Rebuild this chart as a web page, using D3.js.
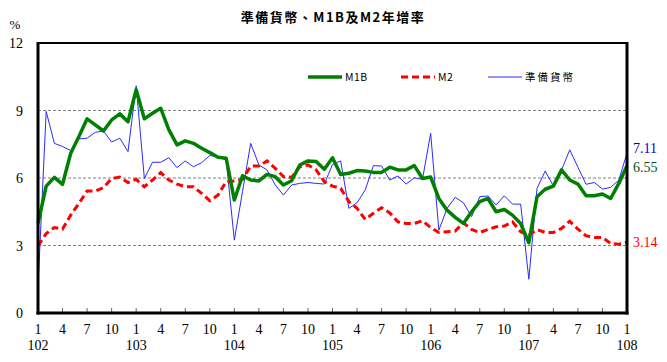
<!DOCTYPE html>
<html><head><meta charset="utf-8">
<script src="https://cdn.jsdelivr.net/npm/d3@7"></script>
<style>body{margin:0;background:#fff}svg{display:block}</style>
</head><body>
<script>
const years = ["102","103","104","105","106","107","108"];
const tickMonths = [1,4,7,10];
const m1b = [3.98,5.64,6.03,5.72,7.10,7.84,8.63,8.36,8.09,8.58,8.85,8.50,
 9.92,8.63,8.88,9.10,8.14,7.47,7.65,7.54,7.32,7.13,6.92,6.88,
 5.02,6.10,5.91,5.87,6.16,6.06,5.69,5.88,6.58,6.76,6.73,6.39,
 6.90,6.16,6.21,6.33,6.31,6.25,6.25,6.48,6.36,6.36,6.55,5.98,
 6.04,5.09,4.57,4.25,3.98,4.50,4.95,5.09,4.50,4.60,4.35,3.98,
 3.12,5.17,5.50,5.64,6.36,5.91,5.73,5.21,5.21,5.29,5.09,5.76,
 6.55];
const m2 = [2.98,3.53,3.80,3.73,4.35,4.87,5.42,5.42,5.57,5.98,6.04,5.80,
 5.94,5.61,5.91,6.24,5.91,5.73,5.61,5.61,5.32,4.99,5.24,5.84,
 5.87,5.94,6.53,6.53,6.76,6.43,6.06,6.03,6.50,6.58,6.36,5.84,
 5.64,5.54,4.95,4.65,4.16,4.43,4.68,4.45,4.05,3.98,3.98,4.10,
 3.80,3.58,3.61,3.64,4.01,3.71,3.58,3.71,3.83,3.86,4.05,3.61,
 3.46,3.71,3.58,3.58,3.76,4.08,3.73,3.43,3.36,3.36,3.09,3.06,
 3.14];
const reserve = [1.16,8.96,7.54,7.40,7.22,7.74,7.77,8.03,8.09,7.60,7.77,7.17,
 10.10,5.98,6.70,6.70,6.90,6.46,6.76,6.50,6.68,7.00,6.95,6.80,
 3.24,5.40,7.54,6.58,6.36,5.69,5.24,5.69,5.76,5.80,5.76,5.73,
 6.60,6.76,4.65,4.90,5.47,6.55,6.53,5.91,6.09,5.73,6.01,5.94,
 7.99,3.68,4.65,5.14,4.90,4.28,5.17,5.20,4.80,5.21,4.84,4.84,
 1.50,5.54,6.31,5.64,6.36,7.25,6.48,5.72,5.80,5.51,5.58,5.91,
 7.11];
const yTicks = [0,3,6,9,12];
const title = "準備貨幣、M1B及M2年增率";

const W=667,H=362, L=38, R=627, T=43, B=313;
const svg = d3.select("body").append("svg").attr("width",W).attr("height",H);
const n = m1b.length;
const x = d3.scaleLinear().domain([0,n-1]).range([L,R]);
const y = d3.scaleLinear().domain([0,12]).range([B,T]);

// grid
svg.append("g").selectAll("line").data(yTicks.filter(d=>d>0&&d<12)).join("line")
  .attr("x1",L).attr("x2",R).attr("y1",d=>y(d)).attr("y2",d=>y(d))
  .attr("stroke","#808080").attr("stroke-width",1).attr("stroke-dasharray","3,2");

// x ticks (inside)
const tickIdx = [];
for(let i=0;i<n;i++){ const m=(i%12)+1; if(tickMonths.includes(m)) tickIdx.push(i); }
svg.append("g").selectAll("line").data(tickIdx).join("line")
  .attr("x1",d=>x(d)).attr("x2",d=>x(d)).attr("y1",B).attr("y2",B-5)
  .attr("stroke","#666").attr("stroke-width",1);

// y labels
svg.append("g").selectAll("text").data(yTicks).join("text")
  .attr("x",23).attr("y",d=>y(d)+5).attr("text-anchor","end")
  .attr("font-family","Liberation Serif").attr("font-size",14).text(d=>d);
svg.append("text").attr("x",15).attr("y",29).attr("text-anchor","middle")
  .attr("font-family","Liberation Serif").attr("font-size",13).text("%");

// x labels
svg.append("g").selectAll("text").data(tickIdx).join("text")
  .attr("x",d=>x(d)).attr("y",334).attr("text-anchor","middle")
  .attr("font-family","Liberation Serif").attr("font-size",14).text(d=>(d%12)+1);
svg.append("g").selectAll("text").data(years).join("text")
  .attr("x",(d,i)=>x(i*12)).attr("y",350).attr("text-anchor","middle")
  .attr("font-family","Liberation Serif").attr("font-size",14).text(d=>d);

// lines
const line = d3.line().x((d,i)=>x(i)).y(d=>y(d));
svg.append("path").datum(reserve).attr("d",line).attr("fill","none")
  .attr("stroke","#2a2aff").attr("stroke-width",1);
svg.append("path").datum(m2).attr("d",line).attr("fill","none")
  .attr("stroke","#ff0000").attr("stroke-width",3).attr("stroke-dasharray","7,4");
svg.append("path").datum(m1b).attr("d",line).attr("fill","none")
  .attr("stroke","#008000").attr("stroke-width",3.5).attr("stroke-linejoin","round");

// frame
svg.append("line").attr("x1",L).attr("x2",R).attr("y1",T).attr("y2",T).attr("stroke","#000").attr("stroke-width",2);
svg.append("line").attr("x1",L).attr("x2",L).attr("y1",T-1).attr("y2",B+1.5).attr("stroke","#000").attr("stroke-width",3);
svg.append("line").attr("x1",R).attr("x2",R).attr("y1",T-1).attr("y2",B+1.5).attr("stroke","#000").attr("stroke-width",3);
svg.append("line").attr("x1",L-1.5).attr("x2",R+1.5).attr("y1",B).attr("y2",B).attr("stroke","#000").attr("stroke-width",3);

// end labels
const endLabels = [
  {v:reserve[n-1], dy:-5, c:"#0000cc"},
  {v:m1b[n-1], dy:1, c:"#004d1a"},
  {v:m2[n-1], dy:0, c:"#ff0000"}];
svg.append("g").selectAll("text").data(endLabels).join("text")
  .attr("x",633).attr("y",d=>y(d.v)+d.dy+5).attr("fill",d=>d.c)
  .attr("font-family","Liberation Serif").attr("font-size",14).text(d=>d.v.toFixed(2));

// legend
const leg = [
  {name:"M1B", c:"#008000", w:3.5, dash:null, x1:308, ls:0.5},
  {name:"M2", c:"#ff0000", w:3, dash:"7,4", x1:401, ls:0.5},
  {name:"準備貨幣", c:"#2a2aff", w:1, dash:null, x1:488, ls:2}];
const lg = svg.append("g").selectAll("g").data(leg).join("g");
lg.append("line").attr("x1",d=>d.x1).attr("x2",d=>d.x1+34).attr("y1",77).attr("y2",77)
  .attr("stroke",d=>d.c).attr("stroke-width",d=>d.w).attr("stroke-dasharray",d=>d.dash);
lg.append("text").attr("x",d=>d.x1+37).attr("y",81)
  .attr("font-family","'Noto Sans CJK TC', 'DejaVu Sans'").attr("font-size",10.5)
  .attr("letter-spacing",d=>d.ls).text(d=>d.name);

// title
svg.append("text").attr("x",333).attr("y",22).attr("text-anchor","middle")
  .attr("font-family","'Noto Sans CJK TC'").attr("font-size",13).attr("font-weight","bold")
  .attr("letter-spacing",1.5).text(title);
</script>
</body></html>
